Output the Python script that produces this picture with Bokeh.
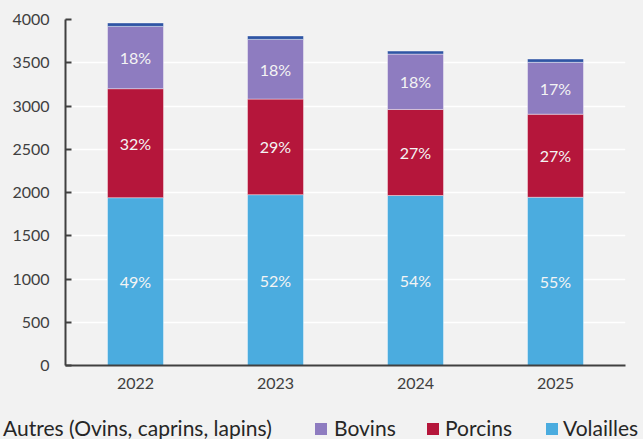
import numpy as np
from bokeh.plotting import figure
from bokeh.layouts import column
from bokeh.models import ColumnDataSource, FactorRange, Range1d, FixedTicker, Div
from bokeh.core.properties import value
from bokeh.embed import file_html
from bokeh.resources import INLINE

years = ["2022", "2023", "2024", "2025"]
volailles = [1940, 1975, 1965, 1945]
porcins = [1260, 1105, 995, 960]
bovins = [720, 690, 640, 600]
autres = [40, 40, 35, 38]
y_ticks = [0, 500, 1000, 1500, 2000, 2500, 3000, 3500, 4000]

series = ["volailles", "porcins", "bovins", "autres"]
colors = ["#4BACDF", "#B5163B", "#8E7CC0", "#2F55A4"]
legend_order = ["autres", "bovins", "porcins", "volailles"]
legend_labels = {"autres": "Autres (Ovins, caprins, lapins)", "bovins": "Bovins",
                 "porcins": "Porcins", "volailles": "Volailles"}

FONT = "Lato"
BG = "#F2F2F2"

source = ColumnDataSource(dict(years=years, volailles=volailles, porcins=porcins,
                               bovins=bovins, autres=autres))

p = figure(x_range=FactorRange(*years), y_range=Range1d(0, 4000),
           width=643, height=405, output_backend="svg", toolbar_location=None,
           min_border_left=65, min_border_right=18, min_border_top=19, min_border_bottom=40)
p.background_fill_color = BG
p.border_fill_color = BG
p.outline_line_color = None

renderers = p.vbar_stack(series, x="years", width=0.4, color=colors, source=source,
                         line_color="white", line_alpha=0.5, line_width=0.8)

# percentage labels
vals = np.array([volailles, porcins, bovins, autres], dtype=float)
totals = vals.sum(axis=0)
cum = np.cumsum(vals, axis=0)
lx, ly, lt = [], [], []
for i in range(3):
    for j, yr in enumerate(years):
        lx.append(yr)
        ly.append(cum[i, j] - vals[i, j] / 2)
        lt.append(f"{round(100 * vals[i, j] / totals[j])}%")
lsrc = ColumnDataSource(dict(x=lx, y=ly, text=lt))
p.text(x="x", y="y", text="text", source=lsrc, text_align="center",
       text_baseline="middle", text_font=value(FONT), text_font_size="16px",
       text_color="#F4F4F4")

# axes
p.yaxis.ticker = FixedTicker(ticks=y_ticks)
p.yaxis.major_tick_in = 6
p.yaxis.major_tick_out = 0
p.yaxis.minor_tick_line_color = None
p.yaxis.major_label_standoff = 16
p.yaxis.axis_line_color = "#404040"
p.yaxis.axis_line_width = 2
p.yaxis.major_tick_line_color = "#404040"
p.yaxis.major_tick_line_width = 2

p.xaxis.major_tick_in = 0
p.xaxis.major_tick_out = 0
p.xaxis.major_label_standoff = 12
p.xaxis.axis_line_color = "#404040"
p.xaxis.axis_line_width = 2

for ax in (p.xaxis[0], p.yaxis[0]):
    ax.major_label_text_font = FONT
    ax.major_label_text_font_size = "16px"
    ax.major_label_text_color = "#404040"

p.xgrid.grid_line_color = None
p.ygrid.grid_line_color = "white"
p.ygrid.grid_line_width = 1.5
p.ygrid.ticker = FixedTicker(ticks=y_ticks)

# legend strip (HTML), swatch colours taken from the series colours
swatch_left = [-17, 315, 427, 546]
text_left = [3, 334, 445, 563]
parts = []
for s, sx, tx in zip(legend_order, swatch_left, text_left):
    c = colors[series.index(s)]
    parts.append(f'<span style="position:absolute;left:{sx}px;top:18px;width:12px;'
                 f'height:12px;background:{c};"></span>')
    parts.append(f'<span style="position:absolute;left:{tx}px;top:6px;line-height:34px;'
                 f'white-space:nowrap;font-family:{FONT};font-size:21px;color:#262626;">'
                 f'{legend_labels[s]}</span>')
html = (f'<div style="position:relative;width:643px;height:34px;overflow:hidden;'
        f'background:{BG};margin:0;padding:0;">' + "".join(parts) + '</div>')
legend_div = Div(text=html, width=643, height=34,
                 styles={"background-color": BG, "margin": "0", "padding": "0",
                         "overflow": "hidden"})

layout = column(p, legend_div, spacing=0, styles={"background-color": BG})
open("out.html", "w").write(file_html(layout, INLINE))
